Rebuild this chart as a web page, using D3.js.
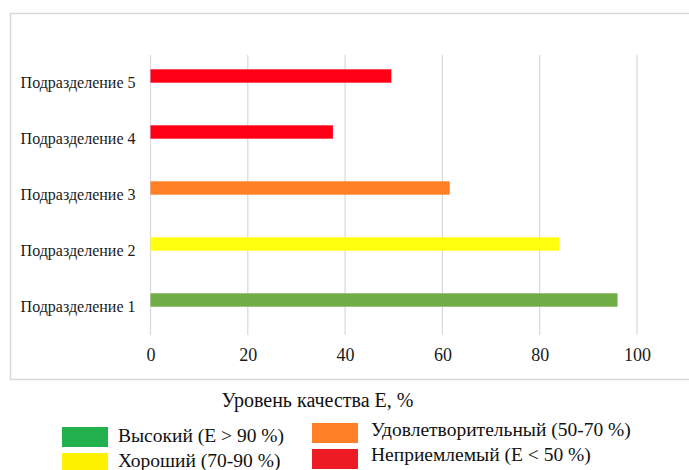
<!DOCTYPE html>
<html>
<head>
<meta charset="utf-8">
<script src="https://cdn.jsdelivr.net/npm/d3@7"></script>
<style>
  html, body { margin: 0; padding: 0; background: #fff; }
  svg { display: block; }
</style>
</head>
<body>
<svg id="chart" width="689" height="470"></svg>
<script>
// Quality level by department
const categories = ["Подразделение 1", "Подразделение 2", "Подразделение 3", "Подразделение 4", "Подразделение 5"];
const values = [96, 84, 61.5, 37.5, 49.5];
const barColors = ["#70AD47", "#FFFF0F", "#FF7F27", "#FF0016", "#FF0016"];
const xTicks = [0, 20, 40, 60, 80, 100];
const axisTitle = "Уровень качества Е, %";
const legendLabels = ["Высокий (Е > 90 %)", "Хороший (70-90 %)", "Удовлетворительный (50-70 %)", "Неприемлемый (Е < 50 %)"];
const legendColors = ["#22B14C", "#FFF200", "#FF7F27", "#ED1C24"];

const FONT = '"Liberation Serif"';
const svg = d3.select("#chart");

// chart frame
svg.append("rect")
  .attr("x", 10.5).attr("y", 13.5)
  .attr("width", 700).attr("height", 366)
  .attr("fill", "#fff").attr("stroke", "#D9D9D9").attr("stroke-width", 1.5);

const plot = { left: 150.5, right: 637, top: 55, bottom: 335 };

const x = d3.scaleLinear().domain([0, 100]).range([plot.left, plot.right]);
const y = d3.scaleBand().domain(categories).range([plot.bottom, plot.top]);

// vertical gridlines
svg.append("g")
  .selectAll("line")
  .data(xTicks)
  .join("line")
  .attr("x1", d => x(d)).attr("x2", d => x(d))
  .attr("y1", plot.top).attr("y2", plot.bottom)
  .attr("stroke", "#D9D9D9").attr("stroke-width", 1.2);

// x axis labels
const xAxis = d3.axisBottom(x).tickValues(xTicks).tickSize(0).tickPadding(0);
const gx = svg.append("g")
  .attr("transform", `translate(0,${plot.bottom + 13})`)
  .call(xAxis);
gx.attr("font-family", null).attr("font-size", null);
gx.select(".domain").remove();
gx.selectAll("text")
  .style("font-family", FONT)
  .style("font-size", "18px")
  .attr("fill", "#1a1a1a")
  .attr("dy", "0.72em");

// category labels
const yAxis = d3.axisLeft(y).tickSize(0).tickPadding(0);
const gy = svg.append("g")
  .attr("transform", `translate(${plot.left - 15},0)`)
  .call(yAxis);
gy.attr("font-family", null).attr("font-size", null);
gy.select(".domain").remove();
gy.selectAll("text")
  .style("font-family", FONT)
  .style("font-size", "16px")
  .attr("fill", "#1a1a1a");

// bars (sit slightly above the band centre)
const barH = 13.4;
svg.append("g")
  .selectAll("rect")
  .data(categories)
  .join("rect")
  .attr("x", x(0))
  .attr("y", d => y(d) + y.bandwidth() / 2 - 7 - barH / 2)
  .attr("width", (d, i) => x(values[i]) - x(0))
  .attr("height", barH)
  .attr("fill", (d, i) => barColors[i]);

// axis title
svg.append("text")
  .attr("x", 317.5).attr("y", 402)
  .attr("text-anchor", "middle")
  .attr("dominant-baseline", "middle")
  .style("font-family", FONT)
  .style("font-size", "20px")
  .attr("fill", "#111")
  .text(axisTitle);

// legend
const legendPos = [
  { sx: 62, sy: 427, tx: 118, ty: 438 },
  { sx: 62, sy: 453, tx: 118, ty: 463 },
  { sx: 312, sy: 423, tx: 371, ty: 432 },
  { sx: 312, sy: 449, tx: 371, ty: 457 }
];
const lg = svg.append("g");
legendLabels.forEach((label, i) => {
  const p = legendPos[i];
  lg.append("rect")
    .attr("x", p.sx).attr("y", p.sy)
    .attr("width", 46).attr("height", 20)
    .attr("fill", legendColors[i]);
  lg.append("text")
    .attr("x", p.tx).attr("y", p.ty)
    .attr("dominant-baseline", "middle")
    .style("font-family", FONT)
    .style("font-size", "19.5px")
    .attr("fill", "#111")
    .text(label);
});
</script>
</body>
</html>
